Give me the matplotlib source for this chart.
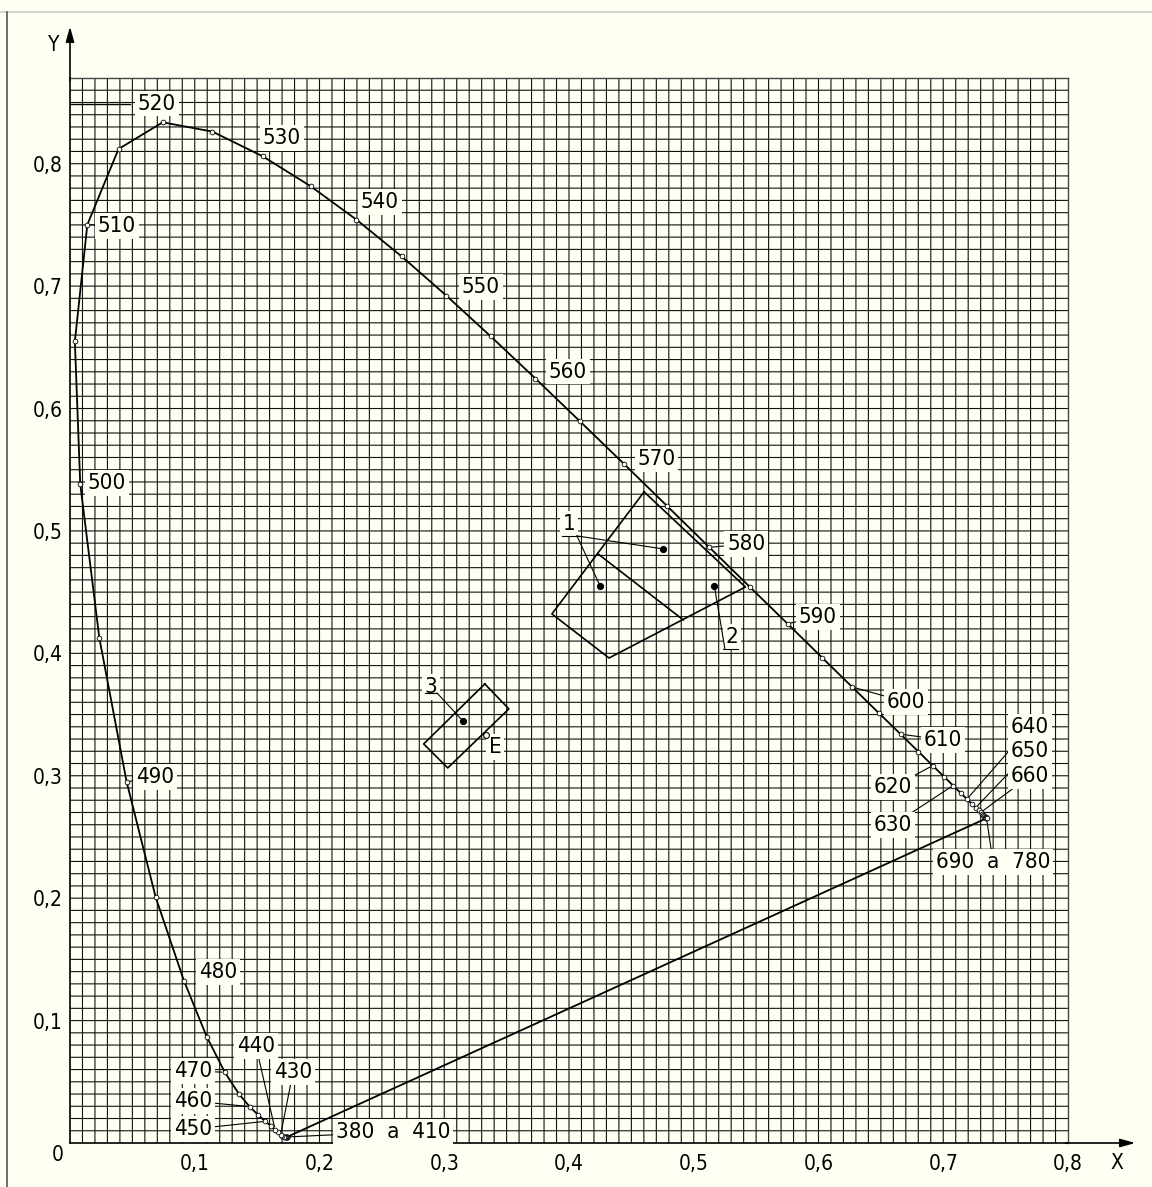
import numpy as np
import matplotlib.pyplot as plt
from matplotlib.lines import Line2D

plt.rcParams['font.family'] = ['DejaVu Sans']
plt.rcParams['font.stretch'] = 'condensed'

BG = '#fffff4'

# CIE 1931 spectral locus, 5 nm steps (380..700) plus 780
wavelengths = list(range(380, 705, 5)) + [780]
x_locus = [0.1741, 0.1740, 0.1738, 0.1736, 0.1733, 0.1730, 0.1726, 0.1721,
           0.1714, 0.1703, 0.1689, 0.1669, 0.1644, 0.1611, 0.1566, 0.1510,
           0.1440, 0.1355, 0.1241, 0.1096, 0.0913, 0.0687, 0.0454, 0.0235,
           0.0082, 0.0039, 0.0139, 0.0389, 0.0743, 0.1142, 0.1547, 0.1929,
           0.2296, 0.2658, 0.3016, 0.3373, 0.3731, 0.4087, 0.4441, 0.4788,
           0.5125, 0.5448, 0.5752, 0.6029, 0.6270, 0.6482, 0.6658, 0.6801,
           0.6915, 0.7006, 0.7079, 0.7140, 0.7190, 0.7230, 0.7260, 0.7283,
           0.7300, 0.7311, 0.7320, 0.7327, 0.7334, 0.7340, 0.7344, 0.7346,
           0.7347, 0.7347]
y_locus = [0.0050, 0.0050, 0.0049, 0.0049, 0.0048, 0.0048, 0.0048, 0.0048,
           0.0051, 0.0058, 0.0069, 0.0086, 0.0109, 0.0138, 0.0177, 0.0227,
           0.0297, 0.0399, 0.0578, 0.0868, 0.1327, 0.2007, 0.2950, 0.4127,
           0.5384, 0.6548, 0.7502, 0.8120, 0.8338, 0.8262, 0.8059, 0.7816,
           0.7543, 0.7243, 0.6923, 0.6589, 0.6245, 0.5896, 0.5547, 0.5202,
           0.4866, 0.4544, 0.4242, 0.3965, 0.3725, 0.3514, 0.3340, 0.3197,
           0.3083, 0.2993, 0.2920, 0.2859, 0.2809, 0.2770, 0.2740, 0.2717,
           0.2700, 0.2689, 0.2680, 0.2673, 0.2666, 0.2660, 0.2656, 0.2654,
           0.2653, 0.2653]

# tolerance regions
region1_x = [0.4602, 0.5414, 0.4321, 0.3863]
region1_y = [0.5319, 0.4542, 0.3962, 0.4322]
divider_x = [0.4233, 0.4916]
divider_y = [0.4812, 0.4273]
region3_x = [0.3325, 0.3518, 0.3028, 0.2835]
region3_y = [0.3750, 0.3546, 0.3064, 0.3260]
centres_x = [0.4755, 0.4249, 0.5165, 0.3149]
centres_y = [0.4853, 0.4551, 0.4551, 0.3448]
white_point = (1 / 3, 1 / 3)

tick_values = [0.1, 0.2, 0.3, 0.4, 0.5, 0.6, 0.7, 0.8]
tick_labels = ['0,1', '0,2', '0,3', '0,4', '0,5', '0,6', '0,7', '0,8']

# (text, wavelength it points at, text position, leader line?)
wl_labels = [
    ('520', 520, (0.0697, 0.8489), False),
    ('530', 530, (0.1700, 0.8210), False),
    ('540', 540, (0.2485, 0.7688), False),
    ('550', 550, (0.3295, 0.6993), False),
    ('560', 560, (0.3990, 0.6300), False),
    ('570', 570, (0.4700, 0.5588), False),
    ('580', 580, (0.5420, 0.4894), True),
    ('590', 590, (0.5996, 0.4297), True),
    ('600', 600, (0.6700, 0.3603), True),
    ('610', 610, (0.6998, 0.3293), True),
    ('620', 620, (0.6597, 0.2908), True),
    ('630', 630, (0.6597, 0.2598), True),
    ('640', 640, (0.7695, 0.3399), True),
    ('650', 650, (0.7695, 0.3203), True),
    ('660', 660, (0.7695, 0.2998), True),
    ('690  a  780', 780, (0.7399, 0.2296), True),
    ('510', 510, (0.0377, 0.7492), True),
    ('500', 500, (0.0297, 0.5392), False),
    ('490', 490, (0.0681, 0.2990), True),
    ('480', 480, (0.1186, 0.1397), False),
    ('470', 470, (0.0986, 0.0588), True),
    ('460', 460, (0.0986, 0.0343), True),
    ('450', 450, (0.0986, 0.0114), True),
    ('440', 440, (0.1491, 0.0792), True),
    ('430', 430, (0.1788, 0.0580), True),
    ('380  a  410', 395, (0.2589, 0.0090), True),
]

fig = plt.figure(figsize=(11.52, 11.87), dpi=100, facecolor=BG)
ax = fig.add_axes([0.06076, 0.03707, 0.86632, 0.89722])
ax.set_facecolor(BG)
ax.set_xlim(0, 0.8)
ax.set_ylim(0, 0.87)

# millimetre-style grid (unsnapped so the lines alias into black / grey like the scan)
for gx in np.arange(0.01, 0.8, 0.01):
    ax.plot([gx, gx], [0, 0.87], color='#111111', lw=0.8, snap=False, zorder=1)
for gy in np.arange(0.01, 0.87, 0.01):
    ax.plot([0, 0.8], [gy, gy], color='#111111', lw=0.8, snap=False, zorder=1)

for side in ['top', 'right']:
    ax.spines[side].set_color('#444444')
    ax.spines[side].set_linewidth(1.0)
for side in ['left', 'bottom']:
    ax.spines[side].set_color('black')
    ax.spines[side].set_linewidth(1.2)

ax.set_xticks(tick_values)
ax.set_xticklabels(tick_labels)
ax.set_yticks(tick_values)
ax.set_yticklabels(tick_labels)
ax.tick_params(axis='both', length=0, labelsize=15)
ax.tick_params(axis='x', pad=8)
ax.tick_params(axis='y', pad=5)
ax.text(-0.010, -0.010, '0', fontsize=15, ha='center', va='center')

# axis arrows
arrow = dict(arrowstyle='-|>,head_length=0.9,head_width=0.25', lw=1.2, color='black',
             shrinkA=0, shrinkB=0)
ax.annotate('', xy=(0, 0.912), xytext=(0, 0.868), arrowprops=arrow, annotation_clip=False)
ax.annotate('', xy=(0.854, 0), xytext=(0.798, 0), arrowprops=arrow, annotation_clip=False)
ax.text(-0.013, 0.897, 'Y', fontsize=15, ha='center', va='center')
ax.text(0.839, -0.016, 'X', fontsize=15, ha='center', va='center')

# spectral locus and purple line
ax.plot(x_locus, y_locus, color='black', lw=1.3, zorder=4)
ax.plot([x_locus[-1], x_locus[0]], [y_locus[-1], y_locus[0]], color='black', lw=1.3, zorder=4)
ax.plot(x_locus[:-1], y_locus[:-1], 'o', ms=3.4, mfc='white', mec='black', mew=0.6, zorder=6)

# regions
ax.plot(region1_x + region1_x[:1], region1_y + region1_y[:1], color='black', lw=1.2, zorder=4)
ax.plot(divider_x, divider_y, color='black', lw=1.2, zorder=4)
ax.plot(region3_x + region3_x[:1], region3_y + region3_y[:1], color='black', lw=1.2, zorder=4)
ax.plot(centres_x, centres_y, 'o', ms=4.2, color='black', zorder=6)
ax.plot(*white_point, 'o', ms=4.2, mfc='white', mec='black', mew=0.8, zorder=6)

box = dict(boxstyle='square,pad=0.12', fc=BG, ec='none')
leader = dict(arrowstyle='-', lw=0.8, color='black', shrinkA=0, shrinkB=2)

for text, wl, pos, has_leader in wl_labels:
    i = wavelengths.index(wl)
    ax.annotate(text, xy=(x_locus[i], y_locus[i]), xytext=pos, fontsize=16,
                ha='center', va='center', bbox=box, zorder=5,
                arrowprops=leader if has_leader else None)

ax.plot([0, 0.048], [0.849, 0.849], color='black', lw=1.0, zorder=4)

# numbered region callouts with underlined leaders
ax.text(0.4000, 0.5057, '1', fontsize=16, ha='center', va='center', bbox=box, zorder=5)
ax.plot([0.3944, 0.4088], [0.4959, 0.4959], color='black', lw=0.8, zorder=5)
for k in (0, 1):
    ax.plot([0.4064, centres_x[k]], [0.4959, centres_y[k]], color='black', lw=0.8, zorder=5)
ax.text(0.5307, 0.4134, '2', fontsize=16, ha='center', va='center', bbox=box, zorder=5)
ax.plot([0.5234, 0.5355], [0.4036, 0.4036], color='black', lw=0.8, zorder=5)
ax.plot([0.5250, centres_x[2]], [0.4036, centres_y[2]], color='black', lw=0.8, zorder=5)
ax.text(0.2894, 0.3725, '3', fontsize=16, ha='center', va='center', bbox=box, zorder=5)
ax.plot([0.2846, 0.2942], [0.3676, 0.3676], color='black', lw=0.8, zorder=5)
ax.plot([0.2942, centres_x[3]], [0.3676, centres_y[3]], color='black', lw=0.8, zorder=5)
ax.text(0.3407, 0.3235, 'E', fontsize=16, ha='center', va='center', bbox=box, zorder=5)

# page frame
fig.add_artist(Line2D([0, 1], [1 - 12 / 1187] * 2, color='#cccccc', lw=1.2))
fig.add_artist(Line2D([7 / 1152] * 2, [0, 1 - 12 / 1187], color='#555555', lw=1.2))

fig.savefig('out.png', dpi=100, facecolor=BG)
